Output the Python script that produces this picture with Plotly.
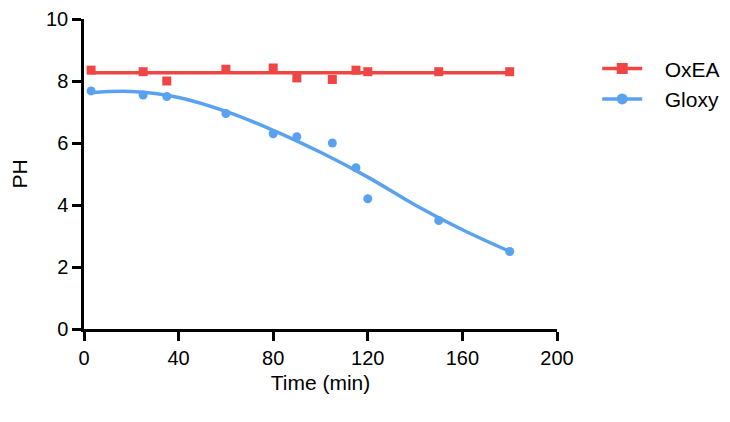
import plotly.graph_objects as go

# Measured data
time_oxea = [3, 25, 35, 60, 80, 90, 105, 115, 120, 150, 180]
ph_oxea = [8.35, 8.3, 8.0, 8.38, 8.42, 8.1, 8.05, 8.35, 8.3, 8.3, 8.3]

time_gloxy = [3, 25, 35, 60, 80, 90, 105, 115, 120, 150, 180]
ph_gloxy = [7.68, 7.55, 7.5, 6.95, 6.3, 6.2, 6.0, 5.2, 4.2, 3.5, 2.5]

# Fitted curves
fit_time_oxea = [3, 180]
fit_ph_oxea = [8.27, 8.27]

fit_time_gloxy = [3, 20, 40, 60, 80, 100, 120, 140, 160, 180]
fit_ph_gloxy = [7.62, 7.66, 7.47, 7.02, 6.41, 5.7, 4.9, 4.0, 3.2, 2.5]

series_names = ["OxEA", "Gloxy"]

RED = "#F04545"
BLUE = "#5AA2F0"
FONT = "Liberation Sans, Arial"
PAD = "\u00a0\u00a0\u00a0"

fig = go.Figure()
fig.add_trace(go.Scatter(x=fit_time_oxea, y=fit_ph_oxea, mode="lines",
                         line=dict(color=RED, width=3.5), showlegend=False))
fig.add_trace(go.Scatter(x=fit_time_gloxy, y=fit_ph_gloxy, mode="lines",
                         line=dict(color=BLUE, width=3.5, shape="spline"), showlegend=False))
fig.add_trace(go.Scatter(x=time_oxea, y=ph_oxea, mode="markers",
                         marker=dict(symbol="square", size=9, color=RED), showlegend=False))
fig.add_trace(go.Scatter(x=time_gloxy, y=ph_gloxy, mode="markers",
                         marker=dict(symbol="circle", size=9, color=BLUE), showlegend=False))
# legend entries
fig.add_trace(go.Scatter(x=[None], y=[None], mode="lines+markers", name=PAD + series_names[0],
                         line=dict(color=RED, width=3.5),
                         marker=dict(symbol="square", size=11, color=RED)))
fig.add_trace(go.Scatter(x=[None], y=[None], mode="lines+markers", name=PAD + series_names[1],
                         line=dict(color=BLUE, width=3.5),
                         marker=dict(symbol="circle", size=11, color=BLUE)))

axis_common = dict(showline=True, linecolor="black", linewidth=2.5,
                   ticks="outside", ticklen=9, tickwidth=2.5, tickcolor="black",
                   showgrid=False, zeroline=False, automargin=False,
                   ticklabeloverflow="allow",
                   tickfont=dict(family=FONT, size=20, color="black"))

fig.update_xaxes(range=[0, 200], tickvals=[0, 40, 80, 120, 160, 200],
                 title=dict(text="Time (min)", font=dict(family=FONT, size=21, color="black"),
                            standoff=8),
                 **axis_common)
fig.update_yaxes(range=[0, 10], tickvals=[0, 2, 4, 6, 8, 10],
                 title=dict(text="PH", font=dict(family=FONT, size=21, color="black"),
                            standoff=22),
                 **axis_common)

fig.update_layout(
    width=730, height=422,
    margin=dict(l=76, r=181, t=11, b=101),
    plot_bgcolor="white", paper_bgcolor="white",
    legend=dict(x=1.085, y=0.905, xanchor="left", yanchor="top",
                font=dict(family=FONT, size=21, color="black"),
                itemwidth=40),
)

fig.write_html("out.html")
